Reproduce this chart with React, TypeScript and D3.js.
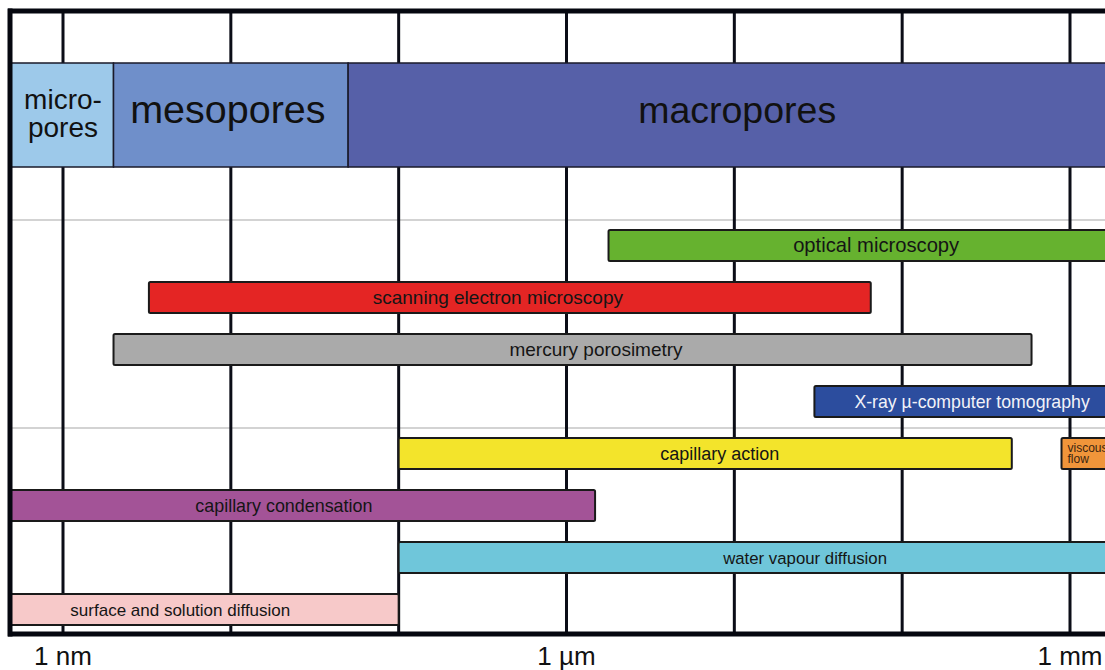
import React from 'react';
import * as d3 from 'd3';

const width = 1105;
const height = 670;

// pore size classes (nm)
const poreNames = ['micro-|pores', 'mesopores', 'macropores'];
const poreFrom = [0.4, 2, 50];
const poreTo = [2, 50, 1e7];
const poreLabelAt = [1, 9.6, 10400];
const poreColors = ['#9dc9ea', '#6f8fca', '#5660a8'];

// methods / transport processes (nm)
const rows = [0, 1, 2, 3, 4, 5, 6, 7];
const methods = [
  'optical microscopy',
  'scanning electron microscopy',
  'mercury porosimetry',
  'X-ray µ-computer tomography',
  'capillary action',
  'viscous|flow',
  'capillary condensation',
  'water vapour diffusion',
  'surface and solution diffusion',
];
const methodRow = [0, 1, 2, 3, 4, 4, 5, 6, 7];
const methodFrom = [1780, 3.25, 2, 30000, 100, 890000, 0.4, 100, 0.4];
const methodTo = [1e7, 65000, 590000, 1e7, 450000, 1e7, 1480, 1e7, 100];
const methodLabelAt = [70000, 390, 1500, 261000, 8200, 0, 20.7, 26400, 5];
const methodColors = ['#66b22f', '#e42524', '#aaaaaa', '#2c4d9e', '#f3e42b', '#f0953a', '#a35397', '#6fc6da', '#f7c9c9'];

// axis
const gridValues = [1, 10, 100, 1000, 1e4, 1e5, 1e6];
const tickValues = [1, 1000, 1e6];
const tickLabels = ['1 nm', '1 µm', '1 mm'];
const groupStarts = [0, 4];

const font = '"Liberation Sans", Arial, sans-serif';
const labelSizes = [20.2, 19, 19, 17.7, 18, 12, 17.9, 16.8, 17];

const App = () => {
  const x = d3.scaleLog().domain([1, 1e6]).range([63, 1070]);
  const y = d3.scaleBand<number>().domain(rows).range([230, 625]).paddingInner(21 / 52).paddingOuter(0);
  const bw = y.bandwidth();
  const gap = y.step() - bw;

  const left = 11;
  const top = 11;
  const bottom = 634;
  const bandTop = 63;
  const bandBottom = 167;

  return (
    <svg width={width} height={height} style={{ position: 'absolute', left: 0, top: 0, background: '#fff' }}>
      <defs>
        <clipPath id="plot">
          <rect x={left} y={0} width={width - left} height={height} />
        </clipPath>
      </defs>

      {groupStarts.map(r => (
        <line key={r} x1={left} x2={width} y1={(y(r) as number) - gap / 2 + 0.5} y2={(y(r) as number) - gap / 2 + 0.5}
          stroke="#a8a8a8" strokeWidth={1.2} />
      ))}

      {gridValues.map(v => (
        <line key={v} x1={x(v)} x2={x(v)} y1={top} y2={bottom} stroke="#0b0d17" strokeWidth={3} />
      ))}

      <g clipPath="url(#plot)">
        {poreNames.map((name, i) => (
          <rect key={name} x={x(poreFrom[i])} y={bandTop} width={x(poreTo[i]) - x(poreFrom[i])} height={bandBottom - bandTop}
            fill={poreColors[i]} stroke="#1a1a2a" strokeWidth={1.5} />
        ))}
        {methods.map((name, i) => (
          <rect key={name} x={x(methodFrom[i])} y={y(methodRow[i])} width={x(methodTo[i]) - x(methodFrom[i])} height={bw}
            rx={1.5} fill={methodColors[i]} stroke="#1a1a1a" strokeWidth={2} />
        ))}
      </g>

      {poreNames.map((name, i) => {
        const parts = name.split('|');
        const cx = x(poreLabelAt[i]);
        if (parts.length > 1) {
          return (
            <text key={name} x={cx} textAnchor="middle" fontFamily={font} fontSize={28} fill="#111">
              <tspan x={cx} y={109}>{parts[0]}</tspan>
              <tspan x={cx} y={137}>{parts[1]}</tspan>
            </text>
          );
        }
        return (
          <text key={name} x={cx} y={123} textAnchor="middle" fontFamily={font} fontSize={i === 1 ? 39.5 : 37.5} fill="#111">{name}</text>
        );
      })}

      {methods.map((name, i) => {
        const ty = y(methodRow[i]) as number;
        const parts = name.split('|');
        if (parts.length > 1) {
          const tx = x(methodFrom[i]) + 6;
          return (
            <text key={name} fontFamily={font} fontSize={labelSizes[i]} fill="#3a2410">
              <tspan x={tx} y={ty + 14}>{parts[0]}</tspan>
              <tspan x={tx} y={ty + 25}>{parts[1]}</tspan>
            </text>
          );
        }
        return (
          <text key={name} x={x(methodLabelAt[i])} y={ty + bw / 2 + 6} textAnchor="middle" fontFamily={font}
            fontSize={labelSizes[i]} fill={i === 3 ? '#f2f2f8' : '#151515'}>{name}</text>
        );
      })}

      <line x1={8} x2={width} y1={top} y2={top} stroke="#05070f" strokeWidth={5} />
      <line x1={8} x2={width} y1={bottom} y2={bottom} stroke="#05070f" strokeWidth={5} />
      <line x1={10} x2={10} y1={8.5} y2={bottom + 2.5} stroke="#05070f" strokeWidth={5} />

      {tickValues.map((v, i) => (
        <text key={v} x={x(v)} y={665} textAnchor="middle" fontFamily={font} fontSize={26} fill="#111">{tickLabels[i]}</text>
      ))}
    </svg>
  );
};

export default App;
